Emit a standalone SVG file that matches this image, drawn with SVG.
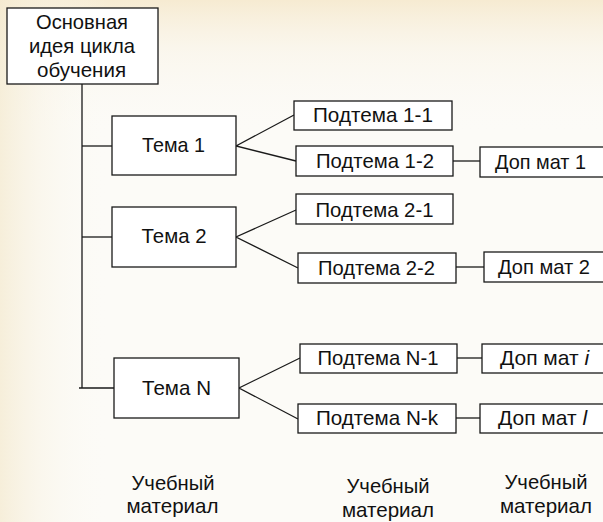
<svg xmlns="http://www.w3.org/2000/svg" width="603" height="522" viewBox="0 0 603 522">
  <defs>
    <linearGradient id="bgTop" x1="0" y1="0" x2="0" y2="1">
      <stop offset="0" stop-color="#f5e8cb" stop-opacity="0.85"/>
      <stop offset="0.1" stop-color="#f8f0df" stop-opacity="0.4"/>
      <stop offset="0.25" stop-color="#fbf9f3" stop-opacity="0"/>
    </linearGradient>
    <linearGradient id="bgLeft" x1="0" y1="0" x2="1" y2="0">
      <stop offset="0" stop-color="#f4ead0" stop-opacity="0.75"/>
      <stop offset="0.07" stop-color="#f8f2e2" stop-opacity="0.45"/>
      <stop offset="0.18" stop-color="#fcfbf7" stop-opacity="0"/>
    </linearGradient>
    <style>
      .box { fill: #ffffff; stroke: #1a1a1a; stroke-width: 1.3; }
      .ln { stroke: #1a1a1a; stroke-width: 1.3; fill: none; }
      text { font-family: "Liberation Sans", Arial, sans-serif; font-size: 21px; fill: #111111; }
      .c { text-anchor: middle; }
    </style>
  </defs>
  <rect x="0" y="0" width="603" height="522" fill="#fcfbf7"/>
  <rect x="0" y="0" width="603" height="522" fill="url(#bgTop)"/>
  <rect x="0" y="0" width="603" height="522" fill="url(#bgLeft)"/>

  <g id="connectors">
    <line class="ln" x1="82" y1="84" x2="82" y2="388"/>
    <line class="ln" x1="82" y1="146" x2="112" y2="146"/>
    <line class="ln" x1="82" y1="237" x2="112" y2="237"/>
    <line class="ln" x1="79" y1="388" x2="114" y2="388"/>
    <polyline class="ln" points="294,115 236,146 296,161"/>
    <polyline class="ln" points="296,210 236,237 298,268"/>
    <polyline class="ln" points="300,358 239,388 298,419"/>
    <line class="ln" x1="453" y1="161" x2="480" y2="161"/>
    <line class="ln" x1="456" y1="267" x2="484" y2="267"/>
    <line class="ln" x1="457" y1="358" x2="482" y2="358"/>
    <line class="ln" x1="456" y1="418" x2="480" y2="418"/>
  </g>

  <g id="main">
    <rect class="box" x="7" y="8" width="151" height="76"/>
    <text class="c" x="82" y="29" textLength="92" lengthAdjust="spacingAndGlyphs">Основная</text>
    <text class="c" x="82" y="53" textLength="106" lengthAdjust="spacingAndGlyphs">идея цикла</text>
    <text class="c" x="81.5" y="77" textLength="89" lengthAdjust="spacingAndGlyphs">обучения</text>
  </g>

  <g id="tema1">
    <rect class="box" x="112" y="116" width="124" height="59"/>
    <text class="c" x="173.5" y="152" textLength="63" lengthAdjust="spacingAndGlyphs">Тема 1</text>
  </g>
  <g id="tema2">
    <rect class="box" x="112" y="207" width="124" height="60"/>
    <text class="c" x="174" y="243" textLength="65" lengthAdjust="spacingAndGlyphs">Тема 2</text>
  </g>
  <g id="temaN">
    <rect class="box" x="114" y="358" width="125" height="60"/>
    <text class="c" x="176.5" y="395" textLength="69" lengthAdjust="spacingAndGlyphs">Тема N</text>
  </g>

  <g id="sub11">
    <rect class="box" x="294" y="101" width="158" height="29"/>
    <text class="c" x="373" y="122" textLength="120" lengthAdjust="spacingAndGlyphs">Подтема 1-1</text>
  </g>
  <g id="sub12">
    <rect class="box" x="296" y="146" width="157" height="30"/>
    <text class="c" x="375" y="168" textLength="118" lengthAdjust="spacingAndGlyphs">Подтема 1-2</text>
  </g>
  <g id="sub21">
    <rect class="box" x="296" y="194" width="157" height="30"/>
    <text class="c" x="374.5" y="217" textLength="118" lengthAdjust="spacingAndGlyphs">Подтема 2-1</text>
  </g>
  <g id="sub22">
    <rect class="box" x="298" y="253" width="158" height="30"/>
    <text class="c" x="376.5" y="275" textLength="117" lengthAdjust="spacingAndGlyphs">Подтема 2-2</text>
  </g>
  <g id="subN1">
    <rect class="box" x="300" y="344" width="157" height="29"/>
    <text class="c" x="378" y="365" textLength="121" lengthAdjust="spacingAndGlyphs">Подтема N-1</text>
  </g>
  <g id="subNk">
    <rect class="box" x="298" y="404" width="158" height="29"/>
    <text class="c" x="377" y="425" textLength="122" lengthAdjust="spacingAndGlyphs">Подтема N-k</text>
  </g>

  <g id="dop1">
    <rect class="box" x="480" y="147" width="140" height="30"/>
    <text x="495" y="169" textLength="91" lengthAdjust="spacingAndGlyphs">Доп мат 1</text>
  </g>
  <g id="dop2">
    <rect class="box" x="484" y="252" width="136" height="30"/>
    <text x="498" y="274" textLength="92" lengthAdjust="spacingAndGlyphs">Доп мат 2</text>
  </g>
  <g id="dopi">
    <rect class="box" x="482" y="344" width="138" height="29"/>
    <text x="500" y="365">Доп мат <tspan font-style="italic">i</tspan></text>
  </g>
  <g id="dopl">
    <rect class="box" x="480" y="404" width="140" height="29"/>
    <text x="498" y="425">Доп мат <tspan font-style="italic">l</tspan></text>
  </g>

  <g id="labels">
    <text class="c" x="173" y="490" textLength="83" lengthAdjust="spacingAndGlyphs">Учебный</text>
    <text class="c" x="172.5" y="513" textLength="92" lengthAdjust="spacingAndGlyphs">материал</text>
    <text class="c" x="388" y="493" textLength="83" lengthAdjust="spacingAndGlyphs">Учебный</text>
    <text class="c" x="388" y="517" textLength="92" lengthAdjust="spacingAndGlyphs">материал</text>
    <text class="c" x="546" y="489" textLength="83" lengthAdjust="spacingAndGlyphs">Учебный</text>
    <text class="c" x="546" y="513" textLength="92" lengthAdjust="spacingAndGlyphs">материал</text>
  </g>
</svg>
